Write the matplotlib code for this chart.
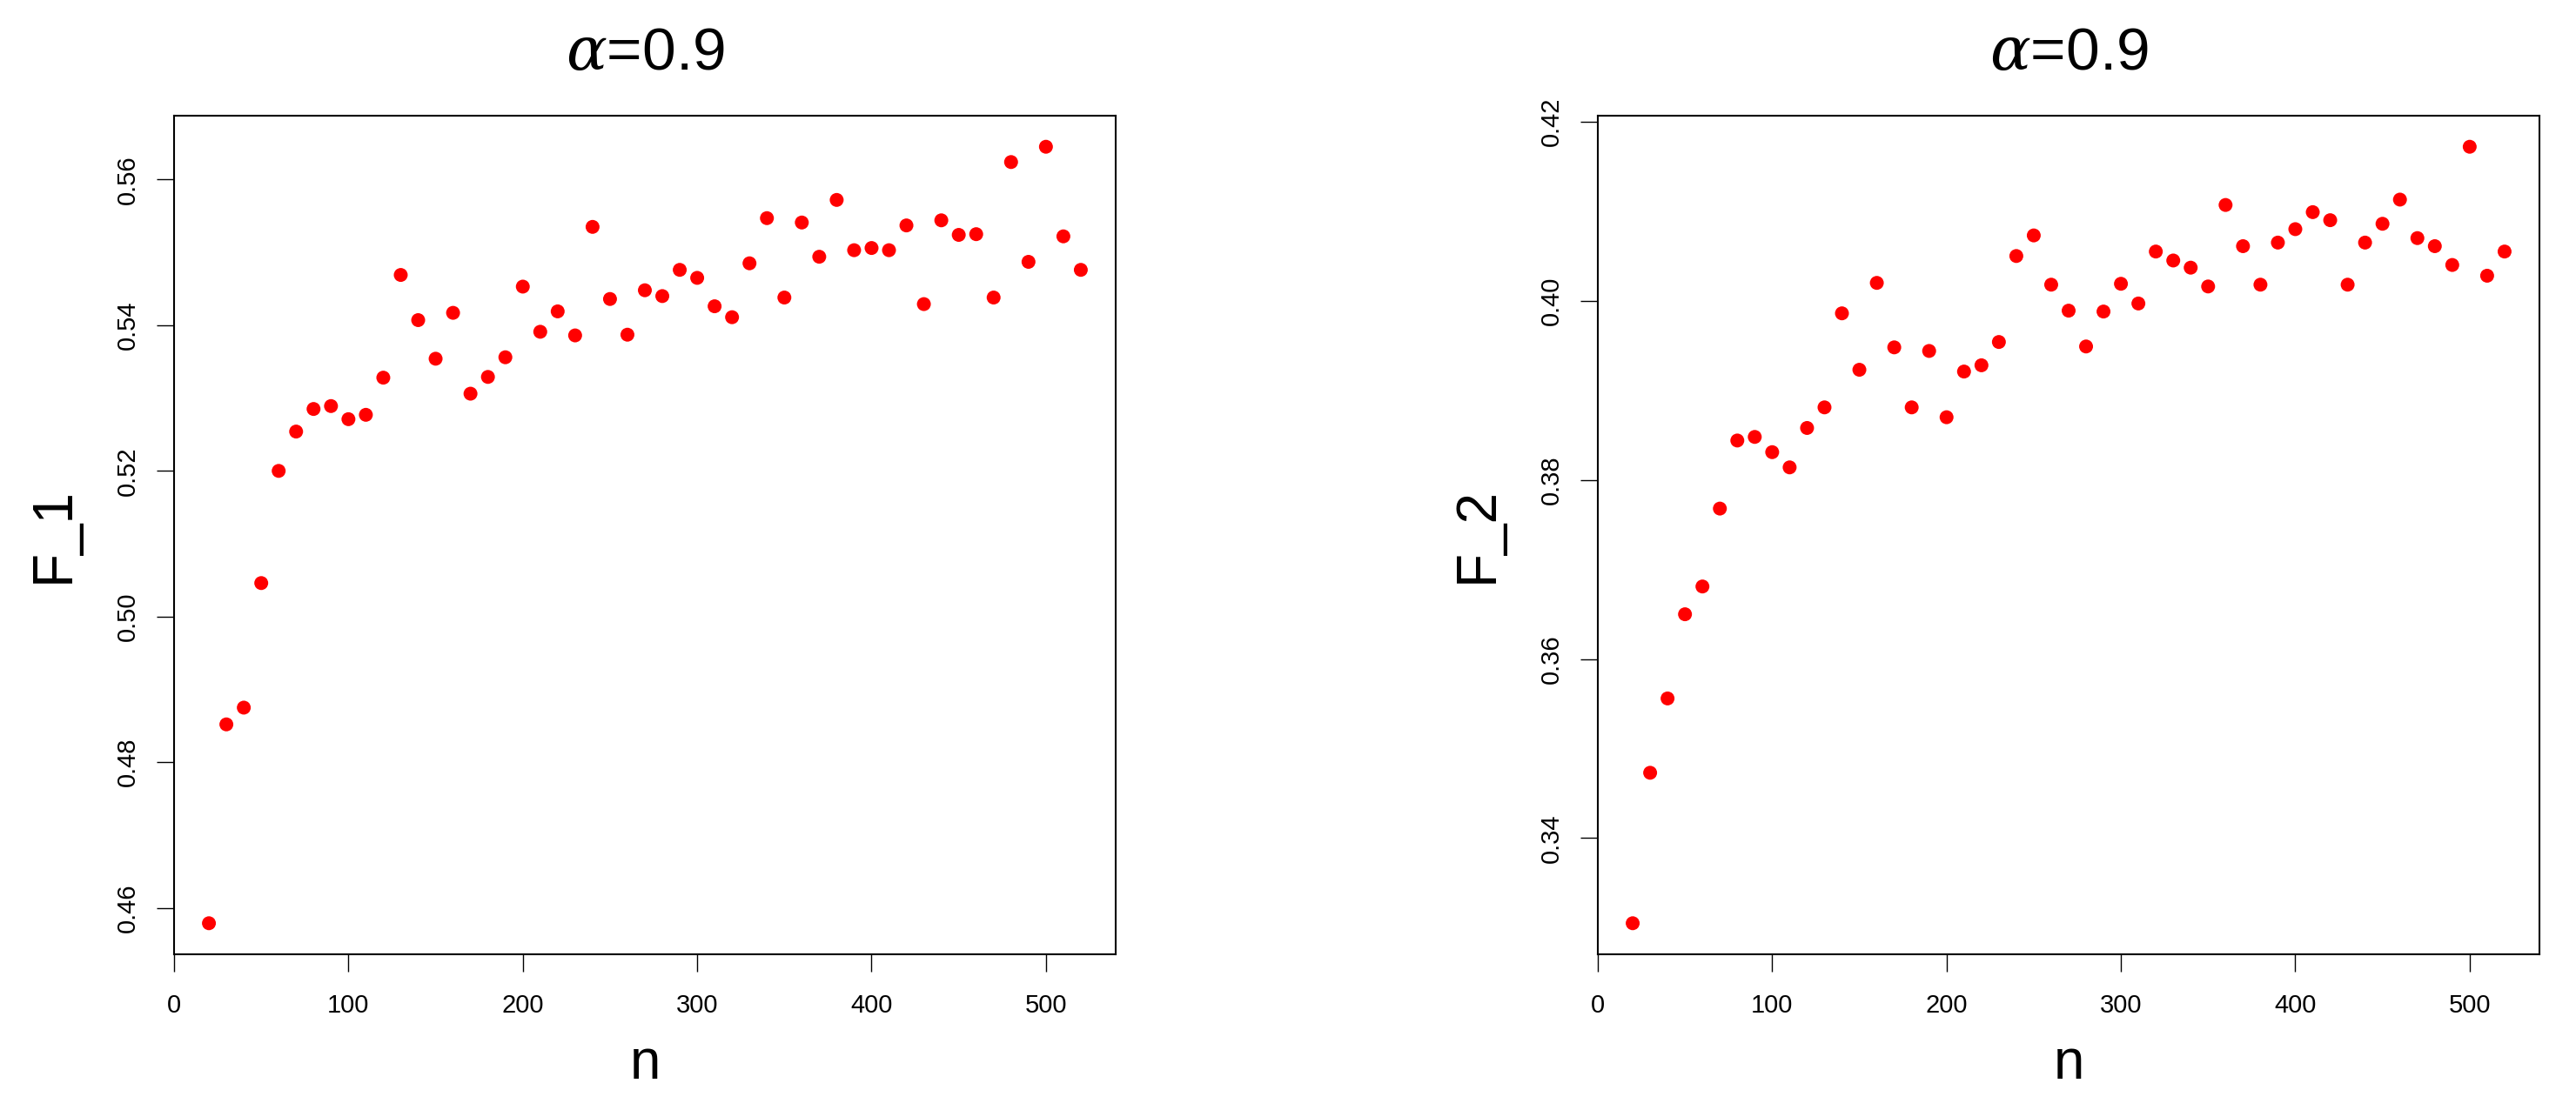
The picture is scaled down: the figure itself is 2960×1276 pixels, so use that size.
import matplotlib

matplotlib.use("Agg")
import matplotlib.pyplot as plt  # noqa: E402

plt.rcParams["font.family"] = ["Liberation Sans", "DejaVu Sans"]
plt.rcParams["mathtext.fontset"] = "custom"
plt.rcParams["mathtext.rm"] = "Liberation Sans"
plt.rcParams["mathtext.it"] = "DejaVu Serif:italic"

# sample sizes n = 20, 30, ..., 520
n = list(range(20, 530, 10))

f1 = [
    0.4579, 0.4852, 0.4875, 0.5046, 0.5200, 0.5254, 0.5285, 0.5289, 0.5271, 0.5277,
    0.5328, 0.5469, 0.5407, 0.5354, 0.5417, 0.5306, 0.5329, 0.5356, 0.5453, 0.5391,
    0.5419, 0.5386, 0.5535, 0.5436, 0.5387, 0.5448, 0.5440, 0.5476, 0.5465, 0.5426,
    0.5411, 0.5485, 0.5547, 0.5438, 0.5541, 0.5494, 0.5572, 0.5503, 0.5506, 0.5503,
    0.5537, 0.5429, 0.5544, 0.5524, 0.5525, 0.5438, 0.5624, 0.5487, 0.5645, 0.5522,
    0.5476,
]

f2 = [
    0.3305, 0.3473, 0.3556, 0.3650, 0.3681, 0.3768, 0.3844, 0.3848, 0.3831, 0.3814,
    0.3858, 0.3881, 0.3986, 0.3923, 0.4020, 0.3948, 0.3881, 0.3944, 0.3870, 0.3921,
    0.3928, 0.3954, 0.4050, 0.4073, 0.4018, 0.3989, 0.3949, 0.3988, 0.4019, 0.3997,
    0.4055, 0.4045, 0.4037, 0.4016, 0.4107, 0.4061, 0.4018, 0.4065, 0.4080, 0.4099,
    0.4090, 0.4018, 0.4065, 0.4086, 0.4113, 0.4070, 0.4061, 0.4040, 0.4172, 0.4028,
    0.4055,
]

x_ticks = [0, 100, 200, 300, 400, 500]
f1_ticks = [0.46, 0.48, 0.50, 0.52, 0.54, 0.56]
f2_ticks = [0.34, 0.36, 0.38, 0.40, 0.42]

W, H = 2960, 1276
fig = plt.figure(figsize=(W / 100, H / 100), dpi=100)


def r_lim(v):
    # R default: data range extended by 4% on each side
    lo, hi = min(v), max(v)
    d = (hi - lo) * 0.04
    return lo - d, hi + d


def panel(left_px, y, yticks, ylabel):
    ax = fig.add_axes([left_px / W, (H - 1097) / H, 1082 / W, 964 / H])
    ax.scatter(n, y, s=11.5 ** 2, color="#ff0000", edgecolors="none", zorder=3)
    ax.set_xlim(r_lim(n))
    ax.set_ylim(r_lim(y))
    ax.set_xticks(x_ticks)
    ax.set_xticklabels([str(t) for t in x_ticks])
    ax.set_yticks(yticks)
    ax.set_yticklabels([f"{t:.2f}" for t in yticks], rotation=90, va="center")
    ax.tick_params(length=14.4, width=1.0, labelsize=21, color="black")
    ax.tick_params(axis="x", pad=18)
    ax.tick_params(axis="y", pad=14)
    for s in ax.spines.values():
        s.set_linewidth(1.5)
    ax.set_xlabel("n", fontsize=46)
    ax.set_ylabel(ylabel, fontsize=46)
    ax.xaxis.set_label_coords(0.5, (1097 - 1223) / 964)
    ax.xaxis.label.set_va("center")
    ax.yaxis.set_label_coords(-138 / 1082, 0.5)
    ax.yaxis.label.set_va("center")
    ax.text(0.5, 1 + (133 - 62) / 964, r"$\alpha$=0.9", transform=ax.transAxes,
            ha="center", va="center", fontsize=50)
    return ax


panel(200, f1, f1_ticks, "F_1")
panel(1836, f2, f2_ticks, "F_2")

fig.savefig("out.png", dpi=100, facecolor="white")
plt.close(fig)
